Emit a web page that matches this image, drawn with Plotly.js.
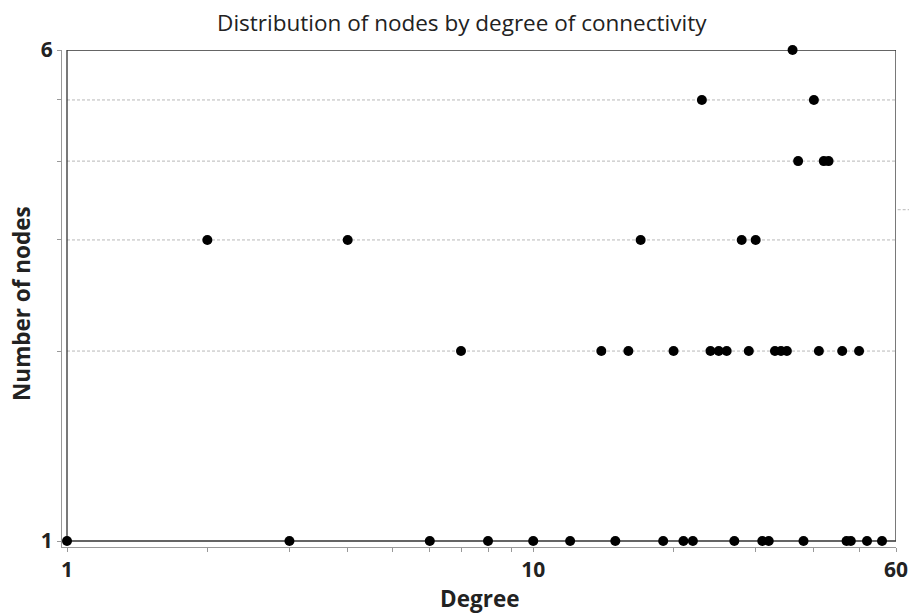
<!DOCTYPE html>
<html><head><meta charset="utf-8">
<script src="https://cdn.plot.ly/plotly-3.0.1.min.js"></script>
<style>html,body{margin:0;padding:0;background:#fff}#chart{width:909px;height:613px}</style>
</head><body><div id="chart"></div>
<script>
// Degree values grouped by the number of nodes having that degree
const degrees1 = [1, 3, 6, 8, 10, 12, 15, 19, 21, 22, 27, 31, 32, 38, 47, 48, 52, 56];
const degrees2 = [7, 14, 16, 20, 24, 25, 26, 29, 33, 34, 35, 41, 46, 50];
const degrees3 = [2, 4, 17, 28, 30];
const degrees4 = [37, 42, 43];
const degrees5 = [23, 40];
const degrees6 = [36];
const xTickVals = [1,2,3,4,5,6,7,8,9,10,20,30,40,50,60];
const xTickText = ['1','','','','','','','','','10','','','','','60'];
const yTickVals = [1,2,3,4,5,6];
const yTickText = ['1','','','','','6'];
const gridY = [2,3,4,5];

const groups = [degrees1, degrees2, degrees3, degrees4, degrees5, degrees6];
const xs = [], ys = [];
groups.forEach((g, i) => g.forEach(d => { xs.push(d); ys.push(i + 1); }));

const xMin = 1, xMax = 60, yMin = 1, yMax = 6;
const FONT = 'Open Sans, Noto Sans, sans-serif';

const shapes = [];
gridY.forEach(v => shapes.push({type:'line', xref:'x', yref:'y', x0:xMin, x1:xMax, y0:v, y1:v,
  line:{color:'#b8b8b8', width:1, dash:'3px,2px'}, layer:'below'}));
shapes.push({type:'rect', xref:'x', yref:'y', x0:xMin, x1:xMax, y0:yMin, y1:yMax,
  line:{color:'#333', width:1.3}, layer:'below'});
shapes.push({type:'line', xref:'paper', yref:'y', x0:1.002, x1:1.02, y0:3.35, y1:3.35,
  line:{color:'#b8b8b8', width:1, dash:'3px,2px'}});

const trace = {x: xs, y: ys, type:'scatter', mode:'markers',
  marker:{color:'#000', size:10}, cliponaxis:false, hoverinfo:'x+y'};

const layout = {
  width:909, height:613,
  margin:{l:62, r:13, t:50, b:66},
  paper_bgcolor:'#fff', plot_bgcolor:'#fff',
  showlegend:false,
  title:{text:'Distribution of nodes by degree of connectivity', x:0.508, xanchor:'center', y:0.962, yanchor:'middle',
    font:{family:FONT, size:22.5, color:'#222'}},
  xaxis:{type:'log', range:[Math.log10(xMin) - 5/466, Math.log10(xMax)],
    tickmode:'array', tickvals:xTickVals, ticktext:xTickText,
    ticks:'outside', ticklen:4, tickcolor:'#999', tickwidth:1,
    showline:true, linecolor:'#999', linewidth:1, showgrid:false, zeroline:false,
    tickfont:{family:FONT, size:21, color:'#222', weight:'bold'}},
  yaxis:{type:'log', range:[Math.log10(yMin) - 6/631, Math.log10(yMax)],
    tickmode:'array', tickvals:yTickVals, ticktext:yTickText,
    ticks:'outside', ticklen:4, tickcolor:'#999', tickwidth:1,
    showline:true, linecolor:'#999', linewidth:1, showgrid:false, zeroline:false,
    tickfont:{family:FONT, size:21, color:'#222', weight:'bold'}},
  annotations:[
    {text:'Degree', xref:'paper', yref:'paper', x:0.5, y:-0.103, xanchor:'center', yanchor:'middle',
      showarrow:false, font:{family:FONT, size:22.5, color:'#222', weight:'bold'}},
    {text:'Number of nodes', xref:'paper', yref:'paper', x:-0.048, y:0.491, xanchor:'center', yanchor:'middle',
      textangle:-90, showarrow:false, font:{family:FONT, size:22.5, color:'#222', weight:'bold'}}
  ],
  shapes: shapes
};
Plotly.newPlot('chart', [trace], layout, {displayModeBar:false, staticPlot:true});
</script></body></html>
